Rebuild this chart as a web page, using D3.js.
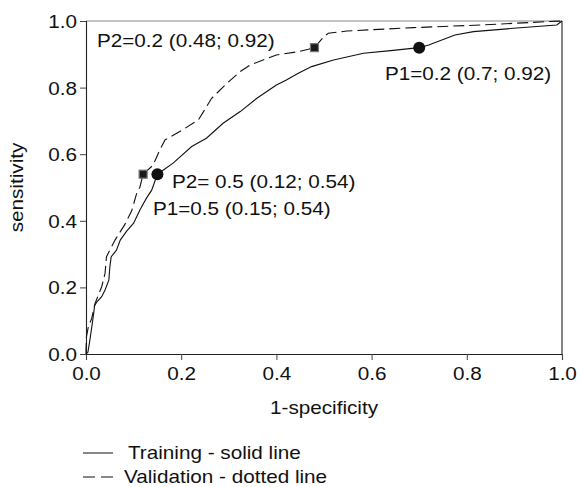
<!DOCTYPE html>
<html><head><meta charset="utf-8">
<script src="https://cdn.jsdelivr.net/npm/d3@7"></script>
<style>body{margin:0;background:#fff}svg{display:block}text{font-family:"Liberation Sans",Arial,sans-serif;fill:#111}</style>
</head><body><svg id="c" width="580" height="487"></svg>
<script>
const trainX = [0,0.004,0.008,0.012,0.016,0.018,0.022,0.033,0.04,0.048,0.05,0.053,0.064,0.072,0.085,0.1,0.113,0.127,0.138,0.15,0.183,0.222,0.253,0.288,0.324,0.359,0.40,0.42,0.446,0.474,0.52,0.583,0.64,0.70,0.72,0.775,0.814,0.898,0.989,1];
const trainY = [0,0.005,0.04,0.08,0.12,0.145,0.155,0.172,0.192,0.222,0.26,0.292,0.312,0.342,0.368,0.393,0.432,0.468,0.492,0.54,0.573,0.623,0.648,0.693,0.728,0.768,0.808,0.822,0.843,0.863,0.883,0.903,0.911,0.92,0.928,0.958,0.968,0.978,0.988,1];
const validX = [0,0,0.001,0.005,0.012,0.019,0.026,0.033,0.04,0.043,0.05,0.061,0.082,0.096,0.106,0.113,0.12,0.141,0.155,0.166,0.197,0.236,0.25,0.264,0.296,0.324,0.345,0.40,0.446,0.467,0.48,0.499,0.509,0.548,0.688,0.828,0.968,1];
const validY = [0,0.012,0.052,0.082,0.107,0.152,0.177,0.202,0.242,0.292,0.312,0.342,0.39,0.43,0.48,0.50,0.54,0.567,0.613,0.643,0.668,0.703,0.735,0.768,0.813,0.848,0.868,0.898,0.908,0.915,0.92,0.952,0.963,0.97,0.98,0.988,0.998,1];
const trainPts = [{x:0.15,y:0.54},{x:0.70,y:0.92}];
const validPts = [{x:0.12,y:0.54},{x:0.48,y:0.92}];
const annLabels = ["P2=0.2 (0.48; 0.92)","P1=0.2 (0.7; 0.92)","P2= 0.5 (0.12; 0.54)","P1=0.5 (0.15; 0.54)"];
const tickVals = [0,0.2,0.4,0.6,0.8,1.0];
const legendLabels = ["Training - solid line","Validation - dotted line"];

const SX = 1.15, FS = 18;
const svg = d3.select("#c");
const x = d3.scaleLinear().domain([0,1]).range([86,562]);
const y = d3.scaleLinear().domain([0,1]).range([354,21]);

function txt(t, px, py, anchor, rot){
  svg.append("text").attr("transform",`translate(${px},${py})${rot?` rotate(${rot})`:""} scale(${SX},1)`)
    .attr("text-anchor",anchor||"start").attr("font-size",FS).text(t);
}

// frame
svg.append("line").attr("x1",x(0)).attr("x2",x(1)).attr("y1",y(1)).attr("y2",y(1)).attr("stroke","#888").attr("stroke-width",1.2);
svg.append("line").attr("x1",x(1)).attr("x2",x(1)).attr("y1",y(1)).attr("y2",y(0)).attr("stroke","#222").attr("stroke-width",1.1);

const xa = svg.append("g").attr("transform",`translate(0,${y(0)})`)
  .call(d3.axisBottom(x).tickValues(tickVals).tickFormat(d3.format(".1f")).tickSizeOuter(0).tickSize(6).tickPadding(6));
const ya = svg.append("g").attr("transform",`translate(${x(0)},0)`)
  .call(d3.axisLeft(y).tickValues(tickVals).tickFormat(d3.format(".1f")).tickSizeOuter(0).tickSize(6).tickPadding(3));
[xa,ya].forEach(g=>{
  g.select(".domain").attr("stroke","#222").attr("stroke-width",1.1);
  g.selectAll(".tick line").attr("stroke","#444");
  g.selectAll("text").attr("font-size",FS).attr("font-family",'"Liberation Sans",Arial,sans-serif').attr("fill","#111");
});
xa.selectAll(".tick text").attr("transform",`scale(${SX},1)`).attr("dy","0.78em");
ya.selectAll(".tick text").attr("x",-9/SX).attr("transform",`scale(${SX},1)`).attr("dy","0.36em");

const line = d3.line().x(d=>x(d[0])).y(d=>y(d[1]));
const tr = d3.zip(trainX,trainY), va = d3.zip(validX,validY);
svg.append("path").datum(tr).attr("d",line).attr("fill","none").attr("stroke","#111").attr("stroke-width",1.1);
svg.append("path").datum(va).attr("d",line).attr("fill","none").attr("stroke","#111").attr("stroke-width",1.1).attr("stroke-dasharray","11,5");

svg.selectAll(".sq").data(validPts).enter().append("rect")
  .attr("x",d=>x(d.x)-4).attr("y",d=>y(d.y)-4).attr("width",8).attr("height",8)
  .attr("fill","#1a1a1a").attr("stroke","#777").attr("stroke-width",1.2);
svg.selectAll(".ci").data(trainPts).enter().append("circle")
  .attr("cx",d=>x(d.x)).attr("cy",d=>y(d.y)).attr("r",6).attr("fill","#111");

txt(annLabels[0], 97, 47);
txt(annLabels[1], 385, 80);
txt(annLabels[2], 172, 188);
txt(annLabels[3], 153, 215);

txt("1-specificity", x(0.5), 414, "middle");
txt("sensitivity", 23, y(0.5), "middle", -90);

// legend
svg.append("line").attr("x1",83).attr("x2",113).attr("y1",453).attr("y2",453).attr("stroke","#111").attr("stroke-width",1);
svg.append("line").attr("x1",83).attr("x2",113).attr("y1",477).attr("y2",477).attr("stroke","#111").attr("stroke-width",1).attr("stroke-dasharray","12,6");
txt(legendLabels[0], 128, 459);
txt(legendLabels[1], 124, 483);
</script></body></html>
